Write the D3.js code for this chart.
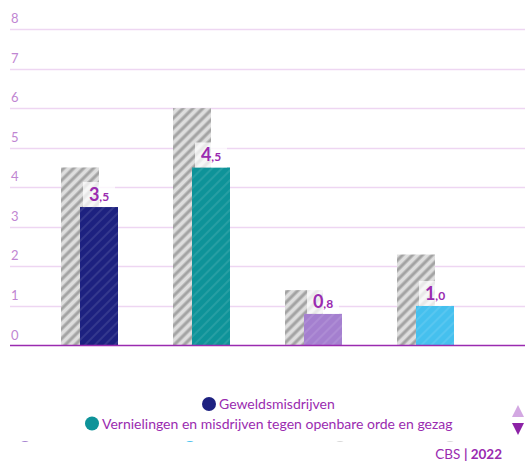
<!DOCTYPE html>
<html>
<head>
<meta charset="utf-8">
<script src="https://cdn.jsdelivr.net/npm/d3@7"></script>
<style>
  body { margin: 0; background: #fff; }
  svg { display: block; font-family: Lato, "Noto Sans", sans-serif; }
</style>
</head>
<body>
<div id="chart"></div>
<script>
// categories and values
const categories = ["Geweldsmisdrijven", "Vernielingen en misdrijven tegen openbare orde en gezag", "Vermogensmisdrijven", "Overige misdrijven"];
const previousValues = [4.5, 6.0, 1.4, 2.3];   // grey hatched bars
const currentValues = [3.5, 4.5, 0.8, 1.0];    // coloured bars
const barColors = ["#1d2180", "#0e9399", "#a47fcf", "#45c0ee"];
const yTicks = [0, 1, 2, 3, 4, 5, 6, 7, 8];
const legendPage = ["Geweldsmisdrijven", "Vernielingen en misdrijven tegen openbare orde en gezag"];

const width = 525, height = 461;
const purple = "#9a2bb0";

const svg = d3.select("#chart").append("svg")
    .attr("width", width)
    .attr("height", height);

const defs = svg.append("defs");

// grey hatch
const grey = defs.append("pattern")
    .attr("id", "hatch-grey")
    .attr("patternUnits", "userSpaceOnUse")
    .attr("width", 7).attr("height", 7)
    .attr("patternTransform", "rotate(45)");
grey.append("rect").attr("width", 7).attr("height", 7).attr("fill", "#dedede");
grey.append("rect").attr("x", 1).attr("width", 1).attr("height", 7).attr("fill", "#bdbdbd");
grey.append("rect").attr("x", 2).attr("width", 2).attr("height", 7).attr("fill", "#a3a3a3");
grey.append("rect").attr("x", 4).attr("width", 1).attr("height", 7).attr("fill", "#bdbdbd");

// coloured hatch, one per bar
barColors.forEach(function (c, i) {
    const p = defs.append("pattern")
        .attr("id", "hatch-" + i)
        .attr("patternUnits", "userSpaceOnUse")
        .attr("width", 7).attr("height", 7)
        .attr("patternTransform", "rotate(45)");
    p.append("rect").attr("width", 7).attr("height", 7).attr("fill", c);
    p.append("rect").attr("x", 2).attr("width", 2).attr("height", 7)
        .attr("fill", "#ffffff").attr("opacity", 0.1);
});

const y = d3.scaleLinear().domain([0, 8]).range([345.5, 29]);
const x = d3.scaleBand().domain(categories).range([33.5, 481.5]);
const barW = 38, shift = 9.5;

// gridlines
svg.append("g").selectAll("line")
    .data(yTicks.filter(d => d > 0))
    .enter().append("line")
    .attr("x1", 10).attr("x2", width)
    .attr("y1", d => Math.round(y(d)) + 0.5)
    .attr("y2", d => Math.round(y(d)) + 0.5)
    .attr("stroke", "#eed6f2")
    .attr("stroke-width", 1.5);

svg.append("g").selectAll("text")
    .data(yTicks)
    .enter().append("text")
    .attr("x", 11)
    .attr("y", d => y(d) - 6)
    .attr("fill", "#bf86d2")
    .attr("font-size", 13)
    .text(d => d);

const center = d => x(d) + x.bandwidth() / 2;

// grey bars
svg.append("g").selectAll("rect")
    .data(categories)
    .enter().append("rect")
    .attr("x", d => center(d) - barW / 2 - shift)
    .attr("width", barW)
    .attr("y", (d, i) => y(previousValues[i]))
    .attr("height", (d, i) => y(0) - y(previousValues[i]))
    .attr("fill", "url(#hatch-grey)");

// coloured bars
svg.append("g").selectAll("rect")
    .data(categories)
    .enter().append("rect")
    .attr("x", d => center(d) - barW / 2 + shift)
    .attr("width", barW)
    .attr("y", (d, i) => y(currentValues[i]))
    .attr("height", (d, i) => y(0) - y(currentValues[i]))
    .attr("fill", (d, i) => "url(#hatch-" + i + ")");

// baseline
svg.append("line")
    .attr("x1", 10).attr("x2", width)
    .attr("y1", y(0)).attr("y2", y(0))
    .attr("stroke", purple)
    .attr("stroke-width", 1.5);

// value labels
const labels = svg.append("g").selectAll("g")
    .data(categories)
    .enter().append("g")
    .attr("transform", (d, i) => "translate(" + (center(d) + shift) + "," + y(currentValues[i]) + ")");

labels.append("rect")
    .attr("x", -16).attr("y", -25)
    .attr("width", 32).attr("height", 25)
    .attr("fill", "#fff").attr("opacity", 0.75);

const lt = labels.append("text")
    .attr("text-anchor", "middle")
    .attr("y", -6)
    .attr("fill", purple)
    .attr("font-weight", "bold");
lt.append("tspan").attr("font-size", 18).text((d, i) => Math.floor(currentValues[i]));
lt.append("tspan").attr("font-size", 12).text((d, i) => "," + Math.round((currentValues[i] % 1) * 10));

// legend (paged, 2 visible rows and the top of a 3rd)
const legend = svg.append("g");
const rows = [
    { label: legendPage[0], cx: 209, cy: 404, color: barColors[0] },
    { label: legendPage[1], cx: 92, cy: 423.5, color: barColors[1] }
];
rows.forEach(function (r) {
    legend.append("circle").attr("cx", r.cx).attr("cy", r.cy).attr("r", 7).attr("fill", r.color);
    legend.append("text")
        .attr("x", r.cx + 10).attr("y", r.cy + 5)
        .attr("font-size", 14)
        .attr("fill", purple)
        .text(r.label);
});

// hidden third row peeking out
defs.append("clipPath").attr("id", "legend-clip")
    .append("rect").attr("x", 0).attr("y", 0).attr("width", width).attr("height", 442);
const peek = svg.append("g").attr("clip-path", "url(#legend-clip)");
[[25, barColors[2]], [190, barColors[3]], [340, "#d8d8d8"], [450, "#d8d8d8"]].forEach(function (p) {
    peek.append("circle").attr("cx", p[0]).attr("cy", 448).attr("r", 7).attr("fill", p[1]);
});

// pager arrows
svg.append("path")
    .attr("d", "M512,417 L524,417 L518,405 Z")
    .attr("fill", "#d3a8e2");
svg.append("path")
    .attr("d", "M512,423 L524,423 L518,435 Z")
    .attr("fill", "#8c22a6");

// credits
const credit = svg.append("text")
    .attr("x", 502).attr("y", 459)
    .attr("text-anchor", "end")
    .attr("font-size", 13.5)
    .attr("fill", purple);
credit.append("tspan").text("CBS ");
credit.append("tspan").attr("font-weight", "bold").text("| 2022");
</script>
</body>
</html>
